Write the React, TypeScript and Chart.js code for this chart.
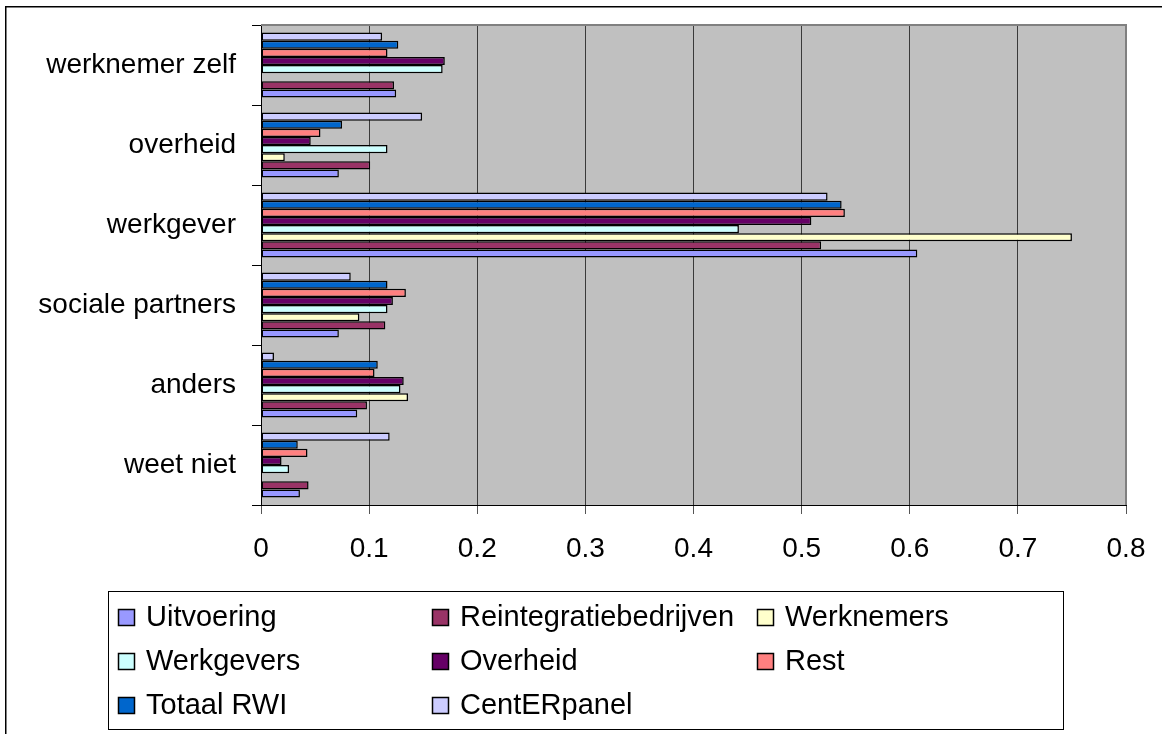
import React, { useEffect, useRef } from "react";
import { Chart, registerables } from "chart.js";

Chart.register(...registerables);

const categories = ["werknemer zelf", "overheid", "werkgever", "sociale partners", "anders", "weet niet"];

const seriesNames = ["Uitvoering", "Reintegratiebedrijven", "Werknemers", "Werkgevers", "Overheid", "Rest", "Totaal RWI", "CentERpanel"];
const seriesColors = ["#9999FF", "#993366", "#FFFFCC", "#CCFFFF", "#660066", "#FF8080", "#0066CC", "#CCCCFF"];

const uitvoering = [0.125, 0.072, 0.607, 0.072, 0.089, 0.036];
const reintegratiebedrijven = [0.123, 0.101, 0.518, 0.115, 0.098, 0.044];
const werknemers = [null, 0.022, 0.750, 0.091, 0.136, null];
const werkgevers = [0.168, 0.117, 0.442, 0.117, 0.129, 0.026];
const overheid = [0.170, 0.046, 0.509, 0.122, 0.132, 0.019];
const rest = [0.117, 0.055, 0.540, 0.134, 0.105, 0.043];
const totaalRWI = [0.127, 0.075, 0.537, 0.117, 0.108, 0.034];
const centERpanel = [0.112, 0.149, 0.524, 0.083, 0.012, 0.119];

const seriesValues = [uitvoering, reintegratiebedrijven, werknemers, werkgevers, overheid, rest, totaalRWI, centERpanel];

const xTickLabels = ["0", "0.1", "0.2", "0.3", "0.4", "0.5", "0.6", "0.7", "0.8"];

const FONT = "'Liberation Sans', Arial, sans-serif";

const framePlugin = {
  id: "frame",
  beforeDraw(chart: any) {
    const { ctx, chartArea } = chart;
    ctx.save();
    ctx.fillStyle = "#ffffff";
    ctx.fillRect(0, 0, chart.width, chart.height);
    ctx.fillStyle = "#C0C0C0";
    ctx.fillRect(chartArea.left, chartArea.top, chartArea.right - chartArea.left, chartArea.bottom - chartArea.top);
    ctx.strokeStyle = "#000";
    ctx.lineWidth = 1.5;
    ctx.beginPath();
    ctx.moveTo(5.75, chart.height + 2);
    ctx.lineTo(5.75, 6.75);
    ctx.lineTo(chart.width + 2, 6.75);
    ctx.stroke();
    ctx.restore();
  },
  afterDatasetsDraw(chart: any) {
    const { ctx, chartArea } = chart;
    ctx.save();
    ctx.strokeStyle = "#808080";
    ctx.lineWidth = 2;
    ctx.beginPath();
    ctx.moveTo(chartArea.left, chartArea.top);
    ctx.lineTo(chartArea.right, chartArea.top);
    ctx.lineTo(chartArea.right, chartArea.bottom);
    ctx.stroke();
    ctx.restore();
  },
  afterDraw(chart: any) {
    const { ctx } = chart;
    ctx.save();
    ctx.strokeStyle = "#000";
    ctx.lineWidth = 1;
    ctx.strokeRect(108.5, 591.5, 955, 138);
    const colX = [118, 432, 757];
    const rowY = [617, 661, 705];
    ctx.font = `29px ${FONT}`;
    ctx.textBaseline = "middle";
    ctx.textAlign = "left";
    seriesNames.forEach((name, i) => {
      const x = colX[i % 3];
      const y = rowY[Math.floor(i / 3)];
      ctx.fillStyle = seriesColors[i];
      ctx.fillRect(x, y - 8, 17, 17);
      ctx.strokeStyle = "#000";
      ctx.lineWidth = 1.5;
      ctx.strokeRect(x + 0.5, y - 7.5, 16, 16);
      ctx.fillStyle = "#000";
      ctx.fillText(name, x + 28, y + 1);
    });
    ctx.restore();
  },
};

export default function App() {
  const ref = useRef<HTMLCanvasElement>(null);
  useEffect(() => {
    if (!ref.current) return;
    const datasets = seriesNames
      .map((name, i) => ({
        label: name,
        data: seriesValues[i],
        backgroundColor: seriesColors[i],
        borderColor: "#000000",
        borderWidth: 1.5,
        borderSkipped: false,
        categoryPercentage: 0.8125,
        barPercentage: 1.0,
      }))
      .reverse();
    const chart = new Chart(ref.current, {
      type: "bar",
      data: { labels: categories, datasets: datasets as any },
      plugins: [framePlugin],
      options: {
        indexAxis: "y",
        animation: false,
        responsive: false,
        layout: { padding: { top: 25, right: 36, left: 0, bottom: 0 } },
        plugins: { legend: { display: false }, tooltip: { enabled: false } },
        scales: {
          x: {
            min: 0,
            max: 0.8,
            afterFit: (s: any) => {
              s.height = 229;
              s.paddingLeft = 0;
              s.paddingRight = 0;
            },
            ticks: {
              stepSize: 0.1,
              color: "#000",
              padding: 18,
              font: { family: FONT, size: 28 },
              callback: (_v: any, i: number) => xTickLabels[i],
            },
            grid: { color: "#3a3a3a", lineWidth: 1, tickLength: 9, tickColor: "#555555" },
            border: { color: "#000", width: 1 },
          },
          y: {
            afterFit: (s: any) => {
              s.width = 261;
              s.paddingTop = 0;
              s.paddingBottom = 0;
            },
            ticks: {
              color: "#000",
              padding: 16,
              font: { family: FONT, size: 28 },
            },
            grid: { offset: true, drawOnChartArea: false, tickLength: 9, tickColor: "#000", lineWidth: 1 },
            border: { color: "#000", width: 1 },
          },
        },
      },
    });
    return () => chart.destroy();
  }, []);
  return (
    <div style={{ position: "absolute", left: 0, top: 0, width: 1162, height: 734 }}>
      <canvas ref={ref} width={1162} height={734} style={{ display: "block" }} />
    </div>
  );
}
